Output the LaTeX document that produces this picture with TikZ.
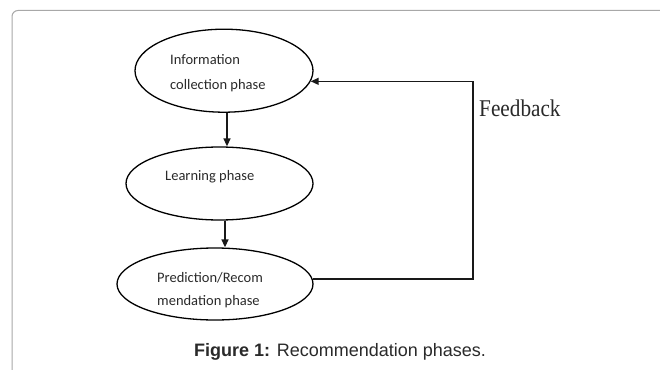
\documentclass[tikz,border=0pt]{standalone}
\usepackage{fontspec}
\setmainfont{Liberation Serif}
\newfontfamily\calib{Carlito}
\newfontfamily\arialf{Liberation Sans}
\usetikzlibrary{arrows.meta,shapes.geometric}
\definecolor{txt}{HTML}{2A2A2A}
\definecolor{framec}{HTML}{A8A8A8}
\tikzset{
  phase/.style={draw=black, line width=1.3pt, ellipse, inner sep=0pt},
  lbl/.style={anchor=base west, inner sep=0pt, text=txt, font=\calib\fontsize{14.5}{17}\selectfont},
  conn/.style={draw=black!90, line width=1.5pt, -{Triangle[length=8pt,width=7pt]}},
}
\begin{document}
\begin{tikzpicture}[x=1pt,y=-1pt]
\useasboundingbox (0,0) rectangle (660,369);
\fill[white] (0,0) rectangle (660,369);
% outer frame
\draw[framec, line width=1pt, rounded corners=6pt] (12,372) -- (12,10.5) -- (664,10.5);
% phases
\node[phase, minimum width=178pt, minimum height=83pt] (e1) at (224,70.7) {};
\node[phase, minimum width=187pt, minimum height=73pt] (e2) at (219.5,183.5) {};
\node[phase, minimum width=196pt, minimum height=72pt] (e3) at (215,284) {};
% texts
\node[lbl] (t1a) at (170,64) {Information};
\node[lbl] (t1b) at (170,89) {collection phase};
\node[lbl] (t2) at (165,180) {Learning phase};
\node[lbl] (t3a) at (157,282) {Prediction/Recom};
\node[lbl] (t3b) at (157,305) {mendation phase};
% connectors
\draw[conn] ([xshift=3pt]e1.south) -- ([xshift=3pt]e1.south |- e2.north);
\draw[conn] ([xshift=5.5pt]e2.south) -- ([xshift=5.5pt]e2.south |- e3.north);
\coordinate (fb) at (473,278);
\draw[conn] (e3.3.6) -- (e3.3.6 -| fb) |- (e1.-7.5);
% feedback label
\node[anchor=base west, inner sep=0pt, text=txt] (flab) at (479,116.7)
  {\scalebox{0.885}[1]{\fontsize{24}{28}\selectfont Feedback}};
% caption
\node[anchor=base, inner sep=0pt, text=txt, font=\arialf\fontsize{18}{21}\selectfont] (cap) at (340,356)
  {\textbf{Figure 1:} Recommendation phases.};
\end{tikzpicture}
\end{document}
